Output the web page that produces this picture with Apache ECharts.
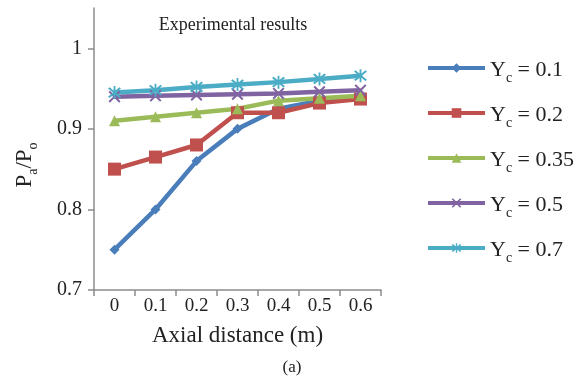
<!DOCTYPE html>
<html>
<head>
<meta charset="utf-8">
<script src="https://cdn.jsdelivr.net/npm/echarts@6/dist/echarts.min.js"></script>
<style>
    html, body { margin: 0; padding: 0; background: #fff; }
    #main { width: 583px; height: 379px; }
</style>
</head>
<body>
<div id="main"></div>
<script>
const FONT = '"Liberation Serif", "DejaVu Serif", serif';

// axial distance (m)
const distances = ['0', '0.1', '0.2', '0.3', '0.4', '0.5', '0.6'];
const yTicks = [0.7, 0.8, 0.9, 1.0];

// Pa/Po for each Yc
const yc01 = [0.75, 0.80, 0.86, 0.90, 0.925, 0.935, 0.94];
const yc02 = [0.85, 0.865, 0.88, 0.92, 0.92, 0.932, 0.937];
const yc035 = [0.91, 0.915, 0.92, 0.925, 0.935, 0.938, 0.941];
const yc05 = [0.94, 0.941, 0.942, 0.943, 0.944, 0.946, 0.948];
const yc07 = [0.945, 0.948, 0.952, 0.955, 0.958, 0.962, 0.966];

const xMark = 'path://M0,1.2L1.2,0L5,3.8L8.8,0L10,1.2L6.2,5L10,8.8L8.8,10L5,6.2L1.2,10L0,8.8L3.8,5Z';
const starMark = 'path://M0,1.2L1.2,0L5,3.8L8.8,0L10,1.2L6.2,5L10,8.8L8.8,10L5,6.2L1.2,10L0,8.8L3.8,5Z M4.3,-1L5.7,-1L5.7,11L4.3,11Z';

function mkSeries(name, data, color, symbol, size) {
    return {
        name: name,
        type: 'line',
        data: data,
        symbol: symbol,
        symbolSize: size,
        showAllSymbol: true,
        lineStyle: { width: 4.5, color: color },
        itemStyle: { color: color, borderWidth: 0 },
        emphasis: { disabled: true },
        animation: false
    };
}

var chart = echarts.init(document.getElementById('main'));
var option = {
    backgroundColor: '#fff',
    animation: false,
    textStyle: { fontFamily: FONT },
    title: {
        text: 'Experimental results',
        left: 228, textAlign: 'center', top: 11,
        textStyle: { fontFamily: FONT, fontSize: 18, fontWeight: 'normal', color: '#222' }
    },
    grid: { left: 94, right: 202, top: 8, bottom: 89 },
    legend: {
        orient: 'vertical',
        left: 421, top: 54,
        itemWidth: 57, itemHeight: 12,
        itemGap: 19,
        lineStyle: { width: 4 },
        formatter: function(name) {
            return '{y|Y}{s|c}{t| = ' + name.split('= ')[1] + '}';
        },
        textStyle: {
            fontFamily: FONT, color: '#222',
            rich: {
                y: { fontFamily: FONT, fontSize: 22, color: '#222', lineHeight: 26, verticalAlign: 'bottom' },
                s: { fontFamily: FONT, fontSize: 14, color: '#222', lineHeight: 26, verticalAlign: 'bottom', padding: [0, 0, -4, 0] },
                t: { fontFamily: FONT, fontSize: 22, color: '#222', lineHeight: 26, verticalAlign: 'bottom' }
            }
        }
    },
    xAxis: {
        type: 'category',
        data: distances,
        name: 'Axial distance (m)',
        nameLocation: 'middle',
        nameGap: 34,
        nameTextStyle: { fontFamily: FONT, fontSize: 23, color: '#222' },
        axisLine: { lineStyle: { color: '#8c8c8c', width: 1.5 } },
        axisTick: { show: true, length: 6, lineStyle: { color: '#8c8c8c', width: 1.5 } },
        axisLabel: { fontFamily: FONT, fontSize: 19, color: '#222', margin: 7 },
        splitLine: { show: false }
    },
    yAxis: {
        type: 'value',
        min: 0.7, max: 1.05,
        axisLine: { show: true, lineStyle: { color: '#8c8c8c', width: 1.5 } },
        axisTick: { show: true, length: 6, customValues: yTicks, lineStyle: { color: '#8c8c8c', width: 1.5 } },
        axisLabel: {
            fontFamily: FONT, fontSize: 20, color: '#222', margin: 12,
            customValues: yTicks,
            formatter: function(v) { return v >= 0.999 ? '1' : v.toFixed(1); }
        },
        splitLine: { show: false }
    },
    graphic: [
        {
            type: 'text',
            x: 23, y: 165,
            rotation: Math.PI / 2,
            style: {
                text: '{m|P}{s|a}{m|/P}{s|o}',
                align: 'center', verticalAlign: 'middle',
                fill: '#222',
                rich: {
                    m: { fontFamily: FONT, fontSize: 23, fill: '#222', lineHeight: 26, verticalAlign: 'bottom' },
                    s: { fontFamily: FONT, fontSize: 14, fill: '#222', lineHeight: 26, verticalAlign: 'bottom', padding: [0, 0, -4, 0] }
                }
            }
        },
        {
            type: 'text',
            x: 292, y: 368,
            style: {
                text: '(a)', align: 'center', verticalAlign: 'middle',
                fontFamily: FONT, fontSize: 17, fill: '#222'
            }
        }
    ],
    series: [
        mkSeries('Yc = 0.1', yc01, '#4a7ebb', 'diamond', 10),
        mkSeries('Yc = 0.2', yc02, '#c0504d', 'rect', 13),
        mkSeries('Yc = 0.35', yc035, '#9bbb59', 'triangle', 11),
        mkSeries('Yc = 0.5', yc05, '#8064a2', xMark, 12),
        mkSeries('Yc = 0.7', yc07, '#4bacc6', starMark, 13)
    ]
};
chart.setOption(option);
</script>
</body>
</html>
